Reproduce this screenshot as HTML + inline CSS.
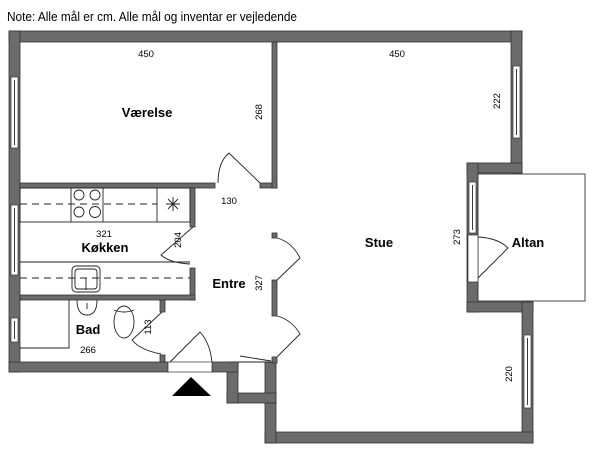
<!DOCTYPE html>
<html><head><meta charset="utf-8"><style>
html,body{margin:0;padding:0;background:#fff;}
svg{display:block;}
text{font-family:"Liberation Sans",sans-serif;fill:#000;}
.w{fill:#6b6b6b;stroke:#333;stroke-width:0.8;}
.win{fill:#fff;stroke:#333;stroke-width:0.7;}
.ln{fill:none;stroke:#222;stroke-width:0.9;}
.d{font-size:9.5px;}
.b{font-size:13px;font-weight:bold;}
</style></head><body>
<svg width="600" height="452" viewBox="0 0 600 452" xmlns="http://www.w3.org/2000/svg">
<text x="7" y="21" font-size="12.5" textLength="290" lengthAdjust="spacingAndGlyphs">Note: Alle mål er cm. Alle mål og inventar er vejledende</text>

<!-- outer walls -->
<rect class="w" x="9" y="31" width="513" height="11"/>
<rect class="w" x="9" y="31" width="11" height="341"/>
<rect class="w" x="511" y="31" width="11" height="142"/>
<rect class="w" x="467" y="163" width="55" height="10"/>
<rect class="w" x="467" y="163" width="11" height="149"/>
<rect class="w" x="467" y="302" width="66" height="10"/>
<rect class="w" x="522" y="302" width="11" height="141"/>
<rect class="w" x="265" y="432" width="268" height="11"/>
<rect class="w" x="265" y="362" width="11" height="81"/>
<rect class="w" x="227" y="393" width="49" height="10"/>
<rect class="w" x="227" y="362" width="11" height="41"/>
<rect class="w" x="9" y="362" width="159" height="10"/>
<rect class="w" x="212" y="362" width="26" height="10"/>

<!-- windows -->
<rect class="win" x="11" y="77" width="7" height="71"/><line class="ln" x1="14.5" y1="80" x2="14.5" y2="145"/>
<rect class="win" x="11" y="205" width="7" height="70"/><line class="ln" x1="14.5" y1="208" x2="14.5" y2="272"/>
<rect class="win" x="11" y="318" width="7" height="24"/><line class="ln" x1="14.5" y1="321" x2="14.5" y2="339"/>
<rect class="win" x="513" y="66" width="7" height="72"/><line class="ln" x1="516.5" y1="69" x2="516.5" y2="135"/>
<rect class="win" x="524" y="335" width="7" height="73"/><line class="ln" x1="527.5" y1="338" x2="527.5" y2="405"/>
<rect class="win" x="469" y="182" width="7" height="51"/><line class="ln" x1="472.5" y1="185" x2="472.5" y2="230"/>
<rect x="468" y="235" width="10" height="47" fill="#fff" stroke="#333" stroke-width="0.7"/>
<rect x="168" y="362" width="44" height="10" fill="#fff" stroke="#333" stroke-width="0.7"/>

<!-- inner walls -->
<rect class="w" x="20" y="183" width="195" height="5"/>
<rect class="w" x="260" y="183" width="17" height="5"/>
<rect class="w" x="272" y="42" width="5" height="146"/>
<rect class="w" x="272" y="233" width="5" height="5"/>
<rect class="w" x="272" y="280" width="5" height="36"/>
<rect class="w" x="272" y="357" width="5" height="6"/>
<rect class="w" x="190" y="188" width="5" height="39"/>
<rect class="w" x="190" y="268" width="5" height="32"/>
<rect class="w" x="20" y="295" width="175" height="5"/>
<rect class="w" x="160" y="300" width="5" height="12"/>
<rect class="w" x="160" y="355" width="5" height="7"/>

<!-- Altan -->
<rect x="478" y="174" width="107" height="127" fill="#fff" stroke="#333" stroke-width="0.9"/>
<rect x="468" y="235" width="10" height="47" fill="#fff" stroke="#333" stroke-width="0.7"/>
<path class="ln" d="M478 237 Q498 238 508 248 L478 278"/>

<!-- doors -->
<path class="ln" d="M218 183 Q218 162 229 153 L260 183"/>
<path class="ln" d="M277 238 Q292 242 300 258 L277 280"/>
<path class="ln" d="M277 316 Q292 320 300 334 L277 357"/>
<path class="ln" d="M193 227 L161 255 Q170 263 190 264"/>
<path class="ln" d="M162 312 L132 340 Q140 350 161 354"/>
<path class="ln" d="M170 362 L200 332 Q210 343 212 362"/>
<polygon points="172,396 191,377 211,396" fill="#000"/>
<line class="ln" x1="240" y1="356" x2="271" y2="361"/>
<line class="ln" x1="238" y1="362" x2="270" y2="362"/>

<!-- kitchen upper counter -->
<rect class="ln" x="20" y="188" width="170" height="34"/>
<line class="ln" x1="71" y1="188" x2="71" y2="222"/>
<line class="ln" x1="103" y1="188" x2="103" y2="222"/>
<line class="ln" x1="157" y1="188" x2="157" y2="222"/>
<line class="ln" x1="20" y1="204" x2="157" y2="204" stroke-dasharray="7,5"/>
<circle class="ln" cx="79" cy="195" r="5"/><circle class="ln" cx="95" cy="195" r="5"/>
<circle class="ln" cx="79" cy="212" r="5"/><circle class="ln" cx="95" cy="212" r="5.5"/>
<path class="ln" d="M166 204 H180 M173 197 V211 M168 199 L178 209 M178 199 L168 209"/>
<!-- kitchen lower counter -->
<line class="ln" x1="20" y1="262" x2="190" y2="262"/>
<line class="ln" x1="20" y1="278" x2="190" y2="278" stroke-dasharray="7,5"/>
<rect class="ln" x="72" y="266" width="28" height="26" rx="4"/>
<rect class="ln" x="75" y="269" width="22" height="20" rx="3"/>
<line class="ln" x1="86" y1="278" x2="86" y2="290"/>

<!-- bath -->
<path class="ln" d="M20 348 H69 V300"/>
<path class="ln" d="M77 300 Q77 315 87 315 Q97 315 97 300"/>
<line class="ln" x1="87" y1="303" x2="87" y2="309"/>
<ellipse class="ln" cx="124" cy="322" rx="10" ry="16"/>
<path class="ln" d="M114 310 Q124 314 134 310"/>

<!-- labels -->
<text class="d" x="146" y="57" text-anchor="middle">450</text>
<text class="d" x="397" y="57" text-anchor="middle">450</text>
<text class="b" x="147" y="117" text-anchor="middle">Værelse</text>
<text class="d" transform="translate(262,112) rotate(-90)" text-anchor="middle">268</text>
<text class="d" transform="translate(500,101) rotate(-90)" text-anchor="middle">222</text>
<text class="d" x="229" y="204" text-anchor="middle">130</text>
<text class="d" x="104" y="237" text-anchor="middle">321</text>
<text class="b" x="105" y="252" text-anchor="middle">Køkken</text>
<text class="d" transform="translate(181,240) rotate(-90)" text-anchor="middle">204</text>
<text class="b" x="379" y="247" text-anchor="middle">Stue</text>
<text class="d" transform="translate(460,237) rotate(-90)" text-anchor="middle">273</text>
<text class="b" x="528" y="247" text-anchor="middle">Altan</text>
<text class="b" x="229" y="288" text-anchor="middle">Entre</text>
<text class="d" transform="translate(262,283) rotate(-90)" text-anchor="middle">327</text>
<text class="b" x="88" y="334" text-anchor="middle">Bad</text>
<text class="d" transform="translate(151,327) rotate(-90)" text-anchor="middle">113</text>
<text class="d" x="88" y="353" text-anchor="middle">266</text>
<text class="d" transform="translate(512,374) rotate(-90)" text-anchor="middle">220</text>
</svg>
</body></html>
